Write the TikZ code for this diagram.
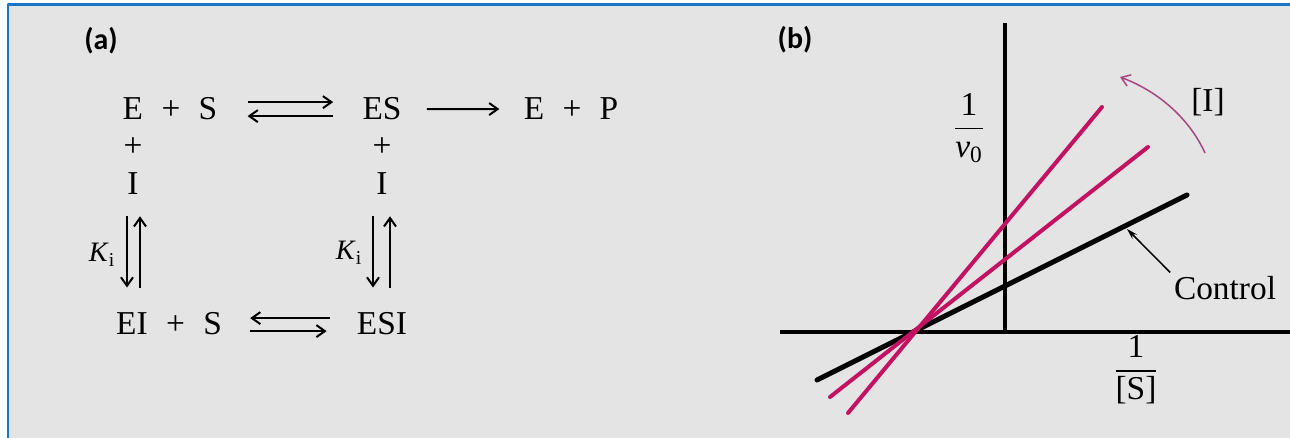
\documentclass[tikz,border=0pt]{standalone}
\usepackage{amsmath}
\usepackage{fontspec}
\setmainfont{Liberation Serif}
\newfontfamily\panelfont{Carlito}
\usetikzlibrary{arrows.meta,calc}
\definecolor{panelgray}{RGB}{228,228,228}
\definecolor{frameblue}{RGB}{26,117,200}
\definecolor{inhmag}{RGB}{196,18,98}
\definecolor{arcmag}{RGB}{165,70,130}
\newcommand{\pl}{\hspace{0.55em}+\hspace{0.55em}}
\newcommand{\rfrac}[2]{$\genfrac{}{}{0.9pt}{0}{\mbox{#1}}{\mbox{#2}}$}

\begin{document}
\begin{tikzpicture}[x=0.02cm,y=-0.02cm,>={Straight Barb[length=0.17cm,width=0.24cm]},line join=round]
	\tikzset{chem/.style={font=\fontsize{19}{22}\selectfont,inner sep=0pt},
		kcon/.style={font=\fontsize{16}{18}\selectfont,inner sep=0pt},
		panel/.style={font=\panelfont\bfseries\fontsize{17}{20}\selectfont,inner sep=0pt},
		rxn/.style={->,line width=0.04cm},
		axis/.style={line width=0.08cm},
		ctlline/.style={line width=0.1cm,line cap=round},
		inhline/.style={inhmag,line width=0.08cm,line cap=round},
		ptr/.style={-{Stealth[length=0.22cm,width=0.13cm]},line width=0.03cm},
		iarc/.style={arcmag,->,line width=0.03cm}}
	%% frame
	\useasboundingbox (0,0) rectangle (1290,438);
	\fill[white] (0,0) rectangle (1290,438);
	\fill[panelgray] (8,5) rectangle (1290,438);
	\draw[frameblue,line width=0.06cm] (8,438) -- (8,5) -- (1290,5);
	%% (a) reaction scheme
	\node[panel] (la) at (101,41) {(a)};
	\node[chem,anchor=base] (es1) at (170,120) {E\pl S};
	\node[chem,anchor=base] (es) at (382,120) {ES};
	\node[chem,anchor=base] (ep) at (571,120) {E\pl P};
	\node[chem] (p1) at (133,147) {+};
	\node[chem] (i1) at (133,184) {I};
	\node[chem] (p2) at (382,147) {+};
	\node[chem] (i2) at (382,184) {I};
	\node[chem,anchor=base] (eis) at (169,335) {EI\pl S};
	\node[chem,anchor=base] (esi) at (382,335) {ESI};
	\node[kcon] (k1) at (102,255) {\textit{K}\textsubscript{i}};
	\node[kcon] (k2) at (349,253) {\textit{K}\textsubscript{i}};
	\draw[rxn] ($(es1.east)+(30,-7)$) -- ($(es.west)+(-29,-7)$);
	\draw[rxn] ($(es.west)+(-29,7)$) -- ($(es1.east)+(30,7)$);
	\draw[rxn] ($(es.east)+(25,0)$) -- ($(ep.west)+(-24,0)$);
	\draw[rxn] ($(esi.west)+(-27,-6)$) -- ($(eis.east)+(28,-6)$);
	\draw[rxn] ($(eis.east)+(28,7)$) -- ($(esi.west)+(-30,7)$);
	\draw[rxn] ($(i1.south)+(-6,21)$) -- ($(i1.south|-eis.north)+(-6,-25)$);
	\draw[rxn] ($(i1.south|-eis.north)+(7,-25)$) -- ($(i1.south)+(7,21)$);
	\draw[rxn] ($(i2.south)+(-9,21)$) -- ($(i2.south|-esi.north)+(-9,-25)$);
	\draw[rxn] ($(i2.south|-esi.north)+(8,-25)$) -- ($(i2.south)+(8,21)$);
	%% (b) double reciprocal plot
	\node[panel] (lb) at (795,40) {(b)};
	\draw[axis] (1005,23) -- (1005,332);
	\draw[axis] (780,332) -- (1290,332);
	\draw[ctlline] (817,380) -- (1187,195);
	\draw[inhline] (830,397) -- (1148,147);
	\draw[inhline] (848,413) -- (1102,107);
	\node[chem] (yl) at (969,128) {\rfrac{1}{\textit{v}\textsubscript{0}}};
	\node[chem] (xl) at (1136,370) {\rfrac{1}{[S]}};
	\node[chem] (ilab) at (1208,102) {[I]};
	\node[chem,inner sep=2pt] (ctrl) at (1225,288) {Control};
	\coordinate (ctip) at (1127,229);
	\draw[ptr] (ctrl.north west) -- (ctip);
	\draw[iarc] (1205,153) .. controls (1190,120) and (1160,92) .. (1120,77);
\end{tikzpicture}
\end{document}
